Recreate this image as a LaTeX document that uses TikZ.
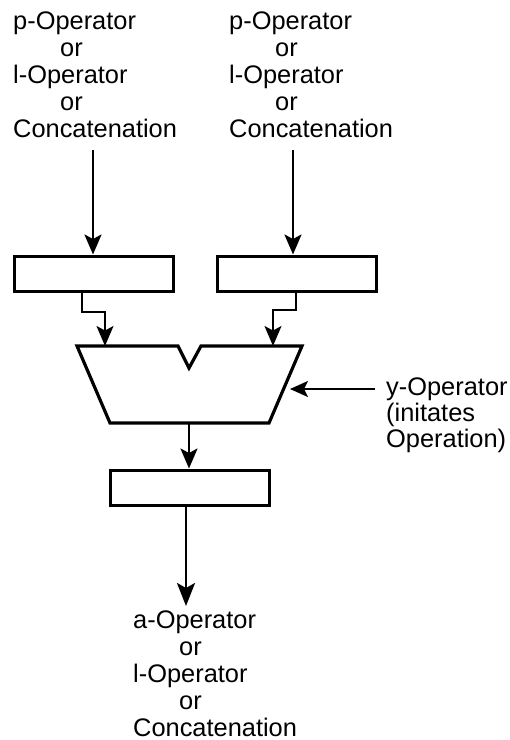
\documentclass[tikz,border=0pt]{standalone}
\usepackage{fontspec}
\setmainfont{Liberation Sans}
\usetikzlibrary{arrows.meta}
\begin{document}
\begin{tikzpicture}[x=1pt,y=-1pt,
  lbl/.style={inner sep=0pt, anchor=base west, font=\fontsize{25.4}{27}\selectfont},
  reg/.style={draw, line width=3pt, rectangle, inner sep=0pt,
              minimum width=159pt, minimum height=35pt},
  tip/.style={-{Stealth[length=20pt,width=17pt,inset=4.5pt]}},
  feed/.style={tip, line width=2.4pt},
  link/.style={tip, line width=1.5pt},
  unit/.style={line width=3.2pt, line join=miter}]
  \useasboundingbox (0,0) rectangle (510,740);

  % operand sources
  \node[lbl] (srcL) at (13,29) {\begin{tabular}[t]{@{}l@{}}p-Operator\\\hspace*{47pt}or\\l-Operator\\\hspace*{47pt}or\\Concatenation\end{tabular}};
  \node[lbl] (srcR) at (229,29) {\begin{tabular}[t]{@{}l@{}}p-Operator\\\hspace*{46pt}or\\l-Operator\\\hspace*{46pt}or\\Concatenation\end{tabular}};

  % operand registers
  \node[reg] (regL) at (93.5,273.5) {};
  \node[reg] (regR) at (297,273.5) {};

  \coordinate (inL) at (93,150);
  \coordinate (inR) at (293,150);
  \draw[feed] (inL) -- (inL |- regL.north);
  \draw[feed] (inR) -- (inR |- regR.north);

  % arithmetic unit with notched top
  \coordinate (tl) at (77,346);
  \coordinate (n1) at (178,346);
  \coordinate (nv) at (189,368);
  \coordinate (n2) at (201,346);
  \coordinate (tr) at (302,346);
  \coordinate (br) at (269,423);
  \coordinate (bl) at (110,423);
  \draw[unit] (tl) -- (n1) -- (nv) -- (n2) -- (tr) -- (br) -- (bl) -- cycle;

  % register outputs into the unit
  \coordinate (oL) at (82,291);
  \coordinate (oR) at (296,291);
  \coordinate (aL) at (105,346);
  \coordinate (aR) at (273,346);
  \draw[link] (oL) -- (82,312) -- (105,312) -- (aL);
  \draw[link] (oR) -- (296,310) -- (273,310) -- (aR);

  % control input
  \node[lbl, font=\fontsize{25.4}{26}\selectfont] (ctrl) at (386,395) {\begin{tabular}[t]{@{}l@{}}y-Operator\\(initates\\Operation)\end{tabular}};
  \coordinate (cS) at (375,389);
  \coordinate (cE) at (290,389);
  \draw[feed, -{Stealth[length=18pt,width=16pt,inset=4pt]}] (cS) -- (cE);

  % result register
  \node[reg] (res) at (189.5,487.5) {};
  \coordinate (uo) at (189,423);
  \draw[feed] (uo) -- (uo |- res.north);

  \coordinate (ro) at (186,505);
  \coordinate (rt) at (186,606);
  \draw[feed, -{Stealth[length=23pt,width=18pt,inset=5pt]}] (ro) -- (rt);

  % result destination
  \node[lbl] (dst) at (133,628) {\begin{tabular}[t]{@{}l@{}}a-Operator\\\hspace*{46pt}or\\l-Operator\\\hspace*{46pt}or\\Concatenation\end{tabular}};
\end{tikzpicture}
\end{document}
